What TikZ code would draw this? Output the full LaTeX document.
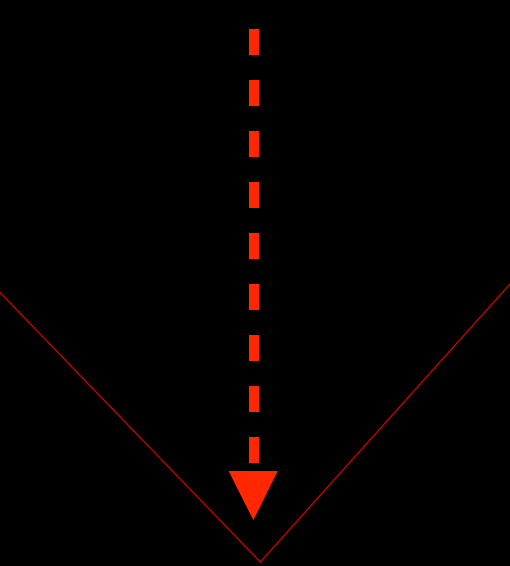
\documentclass[tikz,border=0pt]{standalone}
\usetikzlibrary{arrows.meta}
\definecolor{arrowred}{RGB}{255,40,0}
\definecolor{vred}{RGB}{210,0,0}
\begin{document}
\begin{tikzpicture}[x=1pt,y=-1pt,
  shaft/.style={draw=arrowred,line width=10pt,dash pattern=on 26pt off 25pt},
  headfill/.style={fill=arrowred},
  vline/.style={draw=vred,line width=1.1pt}]
\fill[black] (0,0) rectangle (510,566);
\useasboundingbox (0,0) rectangle (510,566);
\coordinate (top) at (254,29);
\coordinate (shaftend) at (254,463);
\coordinate (hl) at (228.7,471);
\coordinate (hr) at (277.7,471);
\coordinate (tip) at (253.3,520);
\coordinate (vl) at (0,292.5);
\coordinate (vb) at (260.3,562);
\coordinate (vr) at (510,284);
\draw[shaft] (top) -- (shaftend);
\path[headfill] (hl) -- (hr) -- (tip) -- cycle;
\draw[vline] (vl) -- (vb) -- (vr);
\end{tikzpicture}
\end{document}
